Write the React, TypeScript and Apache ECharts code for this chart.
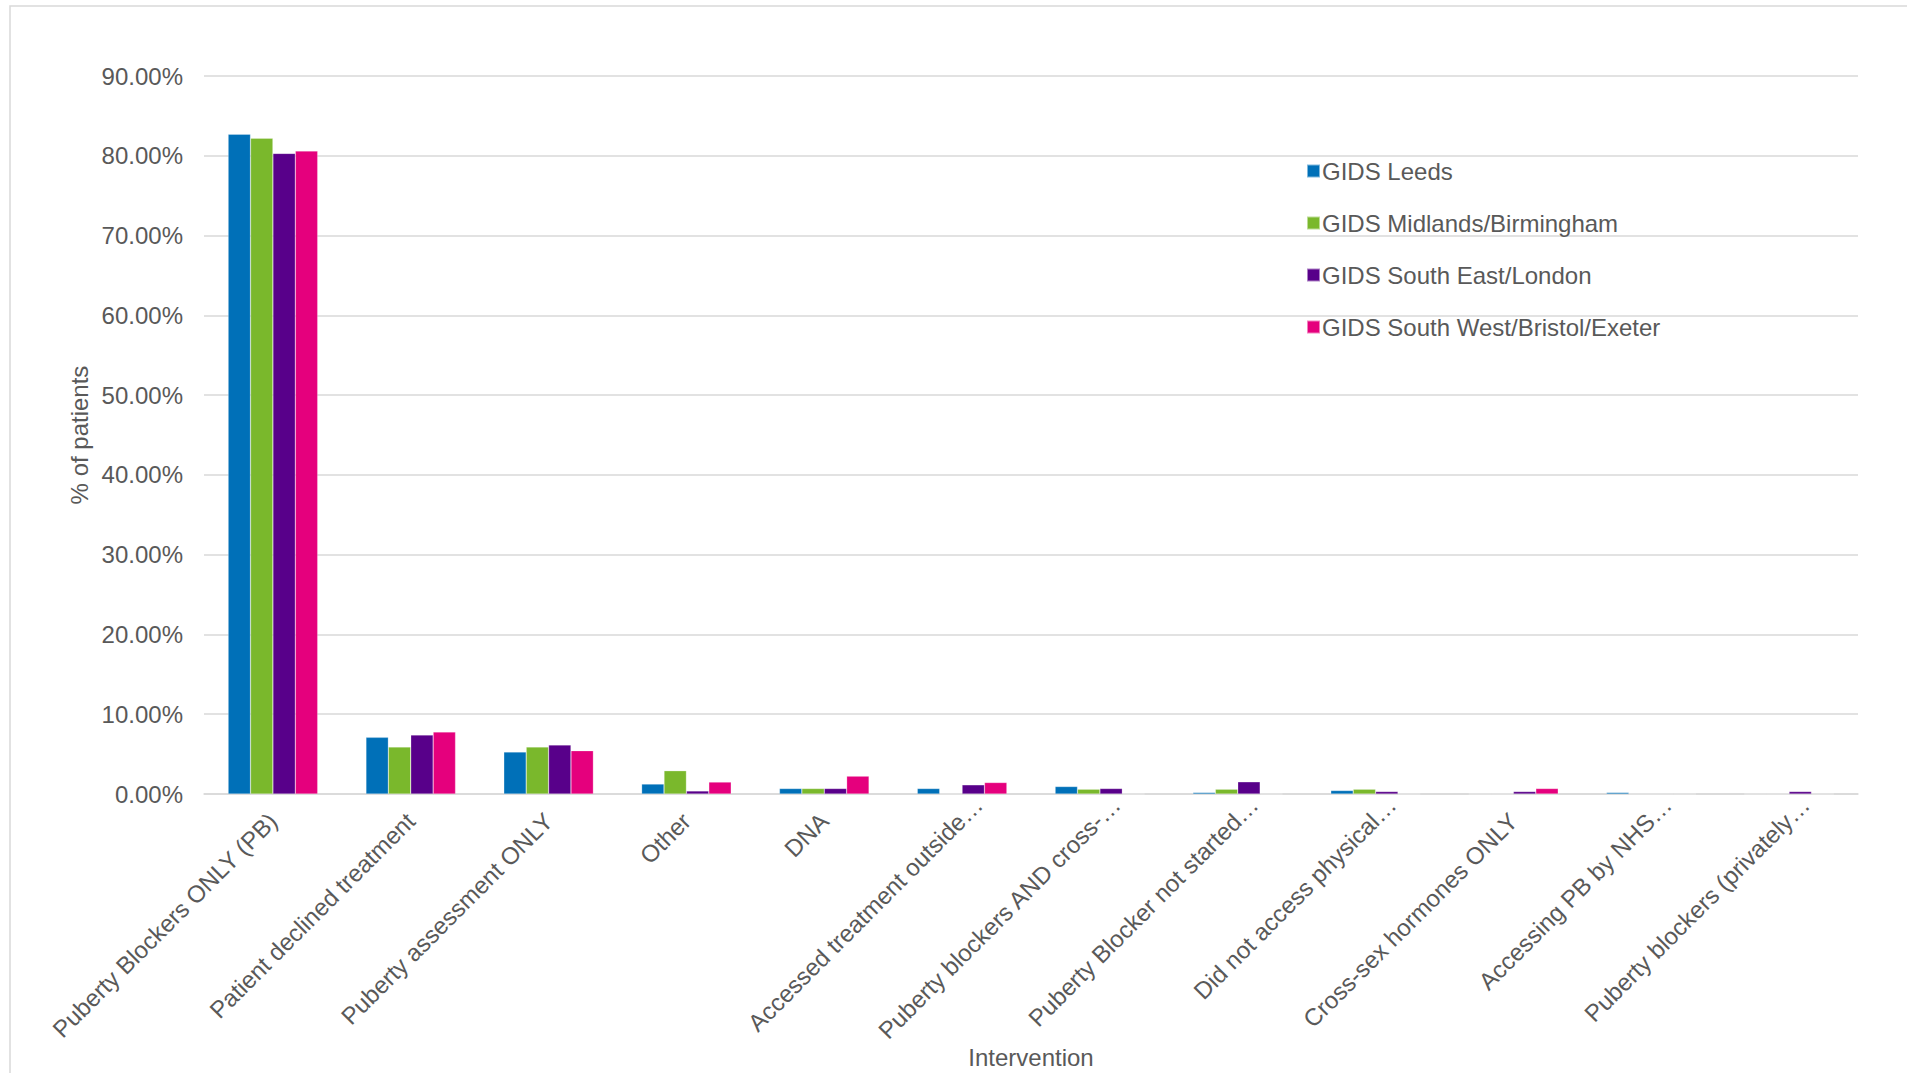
import React, { useEffect, useRef } from "react";
import * as echarts from "echarts";

const categories = [
  "Puberty Blockers ONLY (PB)",
  "Patient declined treatment",
  "Puberty assessment ONLY",
  "Other",
  "DNA",
  "Accessed treatment outside…",
  "Puberty blockers AND cross-…",
  "Puberty Blocker not started…",
  "Did not access physical…",
  "Cross-sex hormones ONLY",
  "Accessing PB by NHS…",
  "Puberty blockers (privately…",
];

const seriesNames = [
  "GIDS Leeds",
  "GIDS Midlands/Birmingham",
  "GIDS South East/London",
  "GIDS South West/Bristol/Exeter",
];

const leeds = [82.7, 7.1, 5.27, 1.25, 0.69, 0.69, 0.94, 0.19, 0.44, 0, 0.19, 0];
const midlands = [82.2, 5.9, 5.9, 2.92, 0.69, 0, 0.6, 0.6, 0.6, 0, 0, 0];
const southEast = [80.3, 7.4, 6.15, 0.38, 0.69, 1.15, 0.69, 1.53, 0.31, 0.31, 0, 0.31];
const southWest = [80.6, 7.78, 5.43, 1.5, 2.24, 1.44, 0, 0, 0, 0.69, 0, 0];

const colors = ["#0070b8", "#7ab82c", "#58008a", "#e5007d"];
const yTicks = { min: 0, max: 90, interval: 10 };

const FONT = "'Liberation Sans', Arial, sans-serif";
const GREY = "#595959";

export default function App() {
  const ref = useRef<HTMLDivElement>(null);
  useEffect(() => {
    if (!ref.current) return;
    const chart = echarts.init(ref.current, null, { renderer: "svg" });
    const data = [leeds, midlands, southEast, southWest];
    const xData = categories.map((c) =>
      c.endsWith("…") ? { value: c, textStyle: { padding: [0, -23, 0, 0] } } : c
    );
    chart.setOption({
      animation: false,
      backgroundColor: "#ffffff",
      textStyle: { fontFamily: FONT },
      graphic: [
        {
          type: "rect",
          shape: { x: 10, y: 6, width: 1920, height: 1100 },
          style: { fill: "none", stroke: "#d9d9d9", lineWidth: 1.5 },
          silent: true,
        },
      ],
      legend: {
        orient: "vertical",
        left: 1301,
        top: 153,
        itemWidth: 13,
        itemHeight: 13,
        itemGap: 26,
        icon: "rect",
        textStyle: { fontFamily: FONT, fontSize: 24, color: GREY, lineHeight: 26, padding: [0, 0, 0, -3] },
        data: seriesNames,
      },
      grid: { left: 204, right: 49, top: 76, bottom: 279, containLabel: false, outerBoundsMode: "none" },
      xAxis: {
        type: "category",
        data: xData,
        name: "Intervention",
        nameLocation: "middle",
        nameGap: 251,
        nameMoveOverlap: false,
        nameTextStyle: { fontFamily: FONT, fontSize: 24, color: GREY },
        axisLine: { lineStyle: { color: "#d9d9d9", width: 1.5 } },
        axisTick: { show: false },
        axisLabel: {
          rotate: 45,
          interval: 0,
          margin: 23,
          fontFamily: FONT,
          fontSize: 24,
          color: GREY,
        },
      },
      yAxis: {
        type: "value",
        min: yTicks.min,
        max: yTicks.max,
        interval: yTicks.interval,
        name: "% of patients",
        nameLocation: "middle",
        nameGap: 113,
        nameRotate: 90,
        nameMoveOverlap: false,
        nameTextStyle: { fontFamily: FONT, fontSize: 24, color: GREY },
        axisLine: { show: false },
        axisTick: { show: false },
        axisLabel: {
          margin: 21,
          fontFamily: FONT,
          fontSize: 24,
          color: GREY,
          formatter: (v: number) => v.toFixed(2) + "%",
        },
        splitLine: { lineStyle: { color: "#d9d9d9", width: 1.5 } },
      },
      series: seriesNames.map((name, i) => ({
        name,
        type: "bar",
        data: data[i],
        barGap: "0%",
        barCategoryGap: "35%",
        itemStyle: { color: colors[i], borderColor: "rgba(255,255,255,0.5)", borderWidth: 0.5 },
      })),
    });
    return () => chart.dispose();
  }, []);
  return (
    <div
      ref={ref}
      style={{ position: "fixed", left: 0, top: 0, width: 1907, height: 1073, background: "#fff" }}
    />
  );
}
